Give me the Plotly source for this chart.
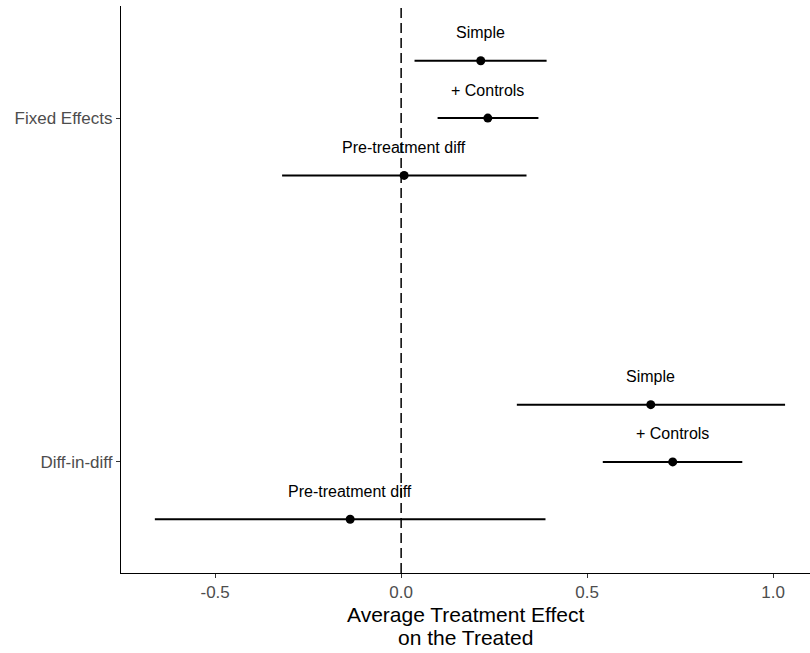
import plotly.graph_objects as go

# Data
groups = ["Diff-in-diff", "Fixed Effects"]
models = ["Pre-treatment diff", "+ Controls", "Simple"]

fe_est = [0.008, 0.233, 0.214]
fe_low = [-0.320, 0.098, 0.036]
fe_high = [0.337, 0.369, 0.391]

did_est = [-0.137, 0.730, 0.671]
did_low = [-0.662, 0.542, 0.311]
did_high = [0.388, 0.917, 1.032]

x_ticks = [-0.5, 0.0, 0.5, 1.0]
x_ticklabels = ["-0.5", "0.0", "0.5", "1.0"]
x_title_lines = ["Average Treatment Effect", "on the Treated"]

est = {"Fixed Effects": fe_est, "Diff-in-diff": did_est}
low = {"Fixed Effects": fe_low, "Diff-in-diff": did_low}
high = {"Fixed Effects": fe_high, "Diff-in-diff": did_high}

dodge_width = 0.5
font_family = "Liberation Sans, Arial, Helvetica, sans-serif"

fig = go.Figure()

fig.add_vline(x=0, line=dict(color="black", width=1.5, dash="10px,5px"), layer="below")

annotations = []
for gi, g in enumerate(groups):
    base = gi + 1
    n = len(models)
    ys = [base + (mi - (n - 1) / 2) * dodge_width / n for mi in range(n)]
    e = est[g]
    lo = low[g]
    hi = high[g]
    fig.add_trace(go.Scatter(
        x=e, y=ys, mode="markers",
        marker=dict(color="black", size=9),
        error_x=dict(type="data", symmetric=False,
                     array=[h - v for h, v in zip(hi, e)],
                     arrayminus=[v - l for v, l in zip(e, lo)],
                     color="black", thickness=2, width=0),
        showlegend=False, hoverinfo="skip",
    ))
    for m, xv, yv in zip(models, e, ys):
        annotations.append(dict(
            x=xv, y=yv, xref="x", yref="y", text=m, showarrow=False,
            yshift=28, font=dict(size=16, color="black", family=font_family),
            xanchor="center", yanchor="middle",
        ))

# x-axis title (two lines with ggplot-like line spacing)
for i, line in enumerate(x_title_lines):
    annotations.append(dict(
        x=0.5, y=0, xref="paper", yref="paper", text=line, showarrow=False,
        yshift=-41 - 23.5 * i, xanchor="center", yanchor="middle",
        borderpad=0,
        font=dict(size=21, color="black", family=font_family),
    ))

fig.update_layout(
    width=810, height=653,
    margin=dict(l=121, r=0, t=6, b=80),
    plot_bgcolor="white", paper_bgcolor="white",
    font=dict(family=font_family),
    annotations=annotations,
    xaxis=dict(
        range=[-0.753, 1.099],
        tickvals=x_ticks,
        ticktext=x_ticklabels,
        showgrid=False, zeroline=False,
        showline=True, linecolor="black", linewidth=1.2,
        ticks="outside", ticklen=4, tickcolor="#333333", tickwidth=1.1,
        tickfont=dict(size=17, color="#4D4D4D"),
        ticklabelstandoff=-1,
    ),
    yaxis=dict(
        range=[0.677, 2.326],
        tickvals=[1, 2],
        ticktext=groups,
        showgrid=False, zeroline=False,
        showline=True, linecolor="black", linewidth=1.2,
        ticks="outside", ticklen=4, tickcolor="#333333", tickwidth=1.1,
        tickfont=dict(size=17, color="#4D4D4D"),
    ),
)

fig.write_html("out.html", config={"displayModeBar": False})

# remove default page margin so the figure sits at the window's top-left
with open("out.html", "r", encoding="utf-8") as f:
    html = f.read()
html = html.replace("<body>", '<body style="margin:0;overflow:hidden">', 1)
with open("out.html", "w", encoding="utf-8") as f:
    f.write(html)
